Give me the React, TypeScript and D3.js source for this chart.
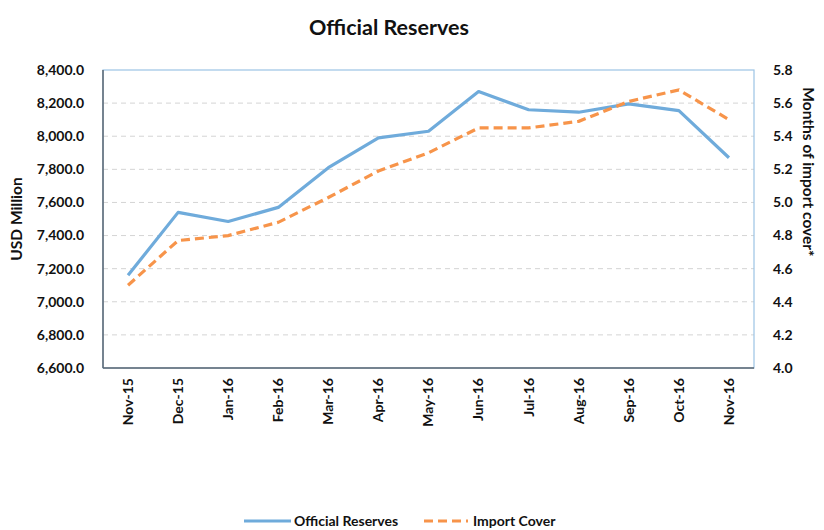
import * as d3 from 'd3'

const months = ['Nov-15', 'Dec-15', 'Jan-16', 'Feb-16', 'Mar-16', 'Apr-16', 'May-16', 'Jun-16', 'Jul-16', 'Aug-16', 'Sep-16', 'Oct-16', 'Nov-16']
const reserves = [7160, 7540, 7485, 7570, 7810, 7990, 8030, 8270, 8160, 8145, 8195, 8155, 7870]
const importCover = [4.5, 4.77, 4.8, 4.88, 5.03, 5.19, 5.3, 5.45, 5.45, 5.49, 5.61, 5.68, 5.5]
const leftTicks = [6600, 6800, 7000, 7200, 7400, 7600, 7800, 8000, 8200, 8400]
const rightTicks = [4.0, 4.2, 4.4, 4.6, 4.8, 5.0, 5.2, 5.4, 5.6, 5.8]

const font = 'Lato, "Open Sans", sans-serif'
const blue = '#6fabdb'
const orange = '#f7944a'

export default function App() {
  const margin = { top: 70, right: 70, bottom: 162, left: 103 }
  const width = 824 - margin.left - margin.right
  const height = 530 - margin.top - margin.bottom

  const x = d3.scaleBand().domain(months).range([0, width])
  const yL = d3.scaleLinear().domain([6600, 8400]).range([height, 0])
  const yR = d3.scaleLinear().domain([4.0, 5.8]).range([height, 0])
  const cx = (m: string) => (x(m) ?? 0) + x.bandwidth() / 2

  const resLine = d3.line<number>().x((_, i) => cx(months[i])).y((d) => yL(d))
  const covLine = d3.line<number>().x((_, i) => cx(months[i])).y((d) => yR(d))
  const fmt = d3.format(',.1f')

  return (
    <svg width={824} height={530} style={{ position: 'absolute', left: 0, top: 0, fontFamily: font }}>
      <text x={389} y={35} textAnchor="middle" fontSize={21.5} fontWeight="bold" fill="#111">Official Reserves</text>
      <g transform={`translate(${margin.left}, ${margin.top})`}>
        {leftTicks.slice(1, -1).map((t) => (
          <line key={t} x1={0} x2={width} y1={yL(t)} y2={yL(t)} stroke="#d4d4d4" strokeDasharray="5,4" />
        ))}
        <rect x={0} y={0} width={width} height={height} fill="none" stroke="#9cc4e4" strokeWidth={1.2} />
        <line x1={0} x2={0} y1={0} y2={height} stroke="#5b6670" strokeWidth={1.5} />
        <line x1={0} x2={width} y1={height} y2={height} stroke="#5b6670" strokeWidth={1.5} />
        {leftTicks.map((t) => (
          <text key={t} x={-19} y={yL(t)} dy="0.35em" textAnchor="end" fontSize={14} fontWeight="bold" fill="#111">{fmt(t)}</text>
        ))}
        {rightTicks.map((t) => (
          <text key={t} x={width + 19} y={yR(t)} dy="0.35em" textAnchor="start" fontSize={14} fontWeight="bold" fill="#111">{t.toFixed(1)}</text>
        ))}
        {months.map((m) => (
          <text key={m} transform={`translate(${cx(m)}, ${height + 10}) rotate(-90)`} dy="0.35em" textAnchor="end" fontSize={14} fontWeight="bold" fill="#111">{m}</text>
        ))}
        <path d={resLine(reserves) ?? ''} fill="none" stroke={blue} strokeWidth={3.2} strokeLinejoin="round" />
        <path d={covLine(importCover) ?? ''} fill="none" stroke={orange} strokeWidth={3.2} strokeDasharray="9,5" />
      </g>
      <text transform="translate(22, 219) rotate(-90)" textAnchor="middle" fontSize={15.5} fontWeight="bold" fill="#111">USD Million</text>
      <text transform="translate(803, 172) rotate(90)" textAnchor="middle" fontSize={15.5} fontWeight="bold" fill="#111">Months of import cover*</text>
      <g transform="translate(0, 521)">
        <line x1={244} x2={291} y1={0} y2={0} stroke={blue} strokeWidth={3.2} />
        <text x={294} y={0} dy="0.35em" fontSize={14} fontWeight="bold" fill="#111">Official Reserves</text>
        <line x1={424} x2={468} y1={0} y2={0} stroke={orange} strokeWidth={3.2} strokeDasharray="9,5" />
        <text x={473} y={0} dy="0.35em" fontSize={14} fontWeight="bold" fill="#111">Import Cover</text>
      </g>
    </svg>
  )
}
